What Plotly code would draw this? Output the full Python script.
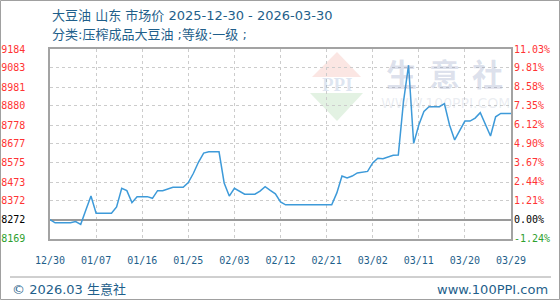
import numpy as np
import pandas as pd
import plotly.graph_objects as go

# ---------------- data ----------------
start_date = "2025-12-30"
prices = [
    8272, 8255, 8255, 8255, 8255, 8262, 8247, 8323, 8398, 8306,
    8306, 8306, 8306, 8340, 8440, 8427, 8363, 8395, 8395, 8395,
    8386, 8427, 8427, 8436, 8445, 8445, 8445, 8470, 8520, 8580,
    8628, 8635, 8635, 8635, 8468, 8398, 8440, 8425, 8408, 8408,
    8408, 8425, 8448, 8428, 8410, 8367, 8351, 8351, 8351, 8351,
    8351, 8351, 8351, 8351, 8351, 8351, 8415, 8505, 8495, 8505,
    8522, 8527, 8530, 8575, 8600, 8598, 8607, 8616, 8618, 8900,
    9098, 8680, 8778, 8850, 8876, 8876, 8876, 8892, 8778, 8698,
    8751, 8799, 8799, 8815, 8844, 8780, 8719, 8822, 8840, 8840,
    8840,
]
x_tick_labels = ["12/30", "01/07", "01/16", "01/25", "02/03", "02/12",
                 "02/21", "03/02", "03/11", "03/20", "03/29"]
y_tick_values = [9184, 9083, 8981, 8880, 8778, 8677, 8575, 8473, 8372, 8272, 8169]
pct_tick_values = [11.03, 9.81, 8.58, 7.35, 6.12, 4.90, 3.67, 2.44, 1.21, 0.00, -1.24]

title_line1 = "大豆油 山东 市场价 2025-12-30 - 2026-03-30"
title_line2 = "分类:压榨成品大豆油 ;等级:一级 ;"
footer_left = "© 2026.03 生意社"
footer_right = "www.100PPI.com"
watermark_chars = "生意社"
watermark_url = "WWW.100PPI.COM"

# ---------------- derived ----------------
dates = pd.date_range(start_date, periods=len(prices), freq="D")
base = prices[0]
pct = [(p / base - 1) * 100 for p in prices]
x_tickvals = pd.date_range(start_date, periods=len(x_tick_labels), freq="9D")

y_lo = min(y_tick_values) - 0.5
y_hi = max(y_tick_values) + 0.5
p_lo = (y_lo / base - 1) * 100
p_hi = (y_hi / base - 1) * 100

RED = "#ff3333"
GREEN = "#2ea02e"
BLACK = "#000000"
BLUE_TXT = "#1f5f8b"
LINE = "#3d9ad9"
GRID = "#cccccc"
FRAME = "#a3a3a3"


def col(v, ref):
    if abs(v - ref) < 1e-9:
        return BLACK
    return RED if v > ref else GREEN


y_ticktext = [f'<span style="color:{col(v, base)}">{v}</span>' for v in y_tick_values]
p_ticktext = [f'<span style="color:{col(v, 0)}">{v:.2f}%</span>' for v in pct_tick_values]

# pixel helpers for decorations (plot area 50..511 x 49..239)
L, R, T, B = 50, 511, 49, 239


def pxx(x):
    return (x - L) / (R - L)


def pxy(y):
    return (B - y) / (B - T)


fig = go.Figure()
fig.add_trace(go.Scatter(
    x=dates, y=prices, mode="lines",
    line=dict(color=LINE, width=1.5),
    showlegend=False, hoverinfo="x+y",
))
fig.add_trace(go.Scatter(
    x=dates, y=pct, mode="lines", yaxis="y2",
    line=dict(color="rgba(0,0,0,0)", width=0),
    showlegend=False, hoverinfo="skip",
))

mono = "DejaVu Sans Mono"
txt = "DejaVu Sans, Noto Sans CJK SC"
cjk = "Noto Sans CJK SC"

fig.update_layout(
    template="none",
    width=560, height=300, autosize=False,
    margin=dict(l=L, r=560 - R, t=T, b=300 - B, pad=0),
    paper_bgcolor="white", plot_bgcolor="white",
    showlegend=False,
    xaxis=dict(
        type="date", range=[dates[0], dates[-1]],
        tickvals=x_tickvals, ticktext=x_tick_labels,
        tickfont=dict(family=mono, size=10, color=BLUE_TXT),
        ticks="", ticklabelstandoff=11, automargin=False,
        showgrid=True, gridcolor=GRID, griddash="3px,3px", gridwidth=1,
        showline=True, mirror=True, linecolor=FRAME, linewidth=1.5,
        zeroline=False, fixedrange=True,
    ),
    yaxis=dict(
        range=[y_lo, y_hi],
        tickvals=y_tick_values, ticktext=y_ticktext,
        tickfont=dict(family=mono, size=10, color=RED),
        ticks="", ticklabelstandoff=21, automargin=False,
        showgrid=True, gridcolor=GRID, griddash="3px,3px", gridwidth=1,
        showline=True, mirror=True, linecolor=FRAME, linewidth=1.5,
        zeroline=False, fixedrange=True,
    ),
    yaxis2=dict(
        overlaying="y", side="right", range=[p_lo, p_hi],
        tickvals=pct_tick_values, ticktext=p_ticktext,
        tickfont=dict(family=mono, size=10, color=RED),
        ticks="", ticklabelstandoff=2, automargin=False,
        showgrid=False,
        zeroline=True, zerolinecolor="#9a9a9a", zerolinewidth=1.5,
        showline=False, fixedrange=True,
    ),
)

annotations = [
    dict(text=title_line1, x=pxx(50), y=pxy(15), xanchor="left", yanchor="middle",
         font=dict(family=txt, size=13, color=BLUE_TXT)),
    dict(text=title_line2, x=pxx(50), y=pxy(34), xanchor="left", yanchor="middle",
         font=dict(family=txt, size=13, color=BLUE_TXT)),
    dict(text=footer_left, x=pxx(10), y=pxy(289), xanchor="left", yanchor="middle",
         font=dict(family=txt, size=13, color=BLUE_TXT)),
    dict(text=footer_right, x=pxx(550), y=pxy(289), xanchor="right", yanchor="middle",
         font=dict(family=txt, size=13, color=BLUE_TXT)),
    dict(text=watermark_url, x=pxx(445), y=pxy(103), xanchor="center", yanchor="middle",
         font=dict(family="DejaVu Sans", size=14, color="rgba(150,160,185,0.2)")),
    dict(text="<b>PPI</b>", x=pxx(337), y=pxy(84), xanchor="center", yanchor="middle",
         font=dict(family="Liberation Serif", size=19, color="rgba(140,165,205,0.28)")),
]
for i, ch in enumerate(watermark_chars):
    annotations.append(dict(
        text=f"<b>{ch}</b>", x=pxx(401 + 43 * i), y=pxy(72),
        xanchor="center", yanchor="middle",
        font=dict(family=cjk, size=31, color="rgba(120,138,180,0.26)"),
    ))
for a in annotations:
    a.update(xref="paper", yref="paper", showarrow=False)
fig.update_layout(annotations=annotations)


def path(points):
    s = "M " + " L ".join(f"{pxx(x):.5f},{pxy(y):.5f}" for x, y in points) + " Z"
    return s


shapes = [
    # outer border
    dict(type="rect", xref="paper", yref="paper",
         x0=pxx(0.5), x1=pxx(559.5), y0=pxy(299.5), y1=pxy(0.5),
         line=dict(color="#a0a0a0", width=1), fillcolor="rgba(0,0,0,0)", layer="above"),
    # footer separator
    dict(type="line", xref="paper", yref="paper",
         x0=pxx(10), x1=pxx(551), y0=pxy(277), y1=pxy(277),
         line=dict(color="#a0a0a0", width=1)),
    # logo watermark
    dict(type="path", xref="paper", yref="paper", path=path([(312, 77), (337, 52), (361, 77)]),
         fillcolor="#fbe6e3", line=dict(width=0), layer="below"),
    dict(type="path", xref="paper", yref="paper", path=path([(310, 93), (363, 93), (337, 121)]),
         fillcolor="#e3f2e3", line=dict(width=0), layer="below"),
]
fig.update_layout(shapes=shapes)

fig.write_html("out.html")
